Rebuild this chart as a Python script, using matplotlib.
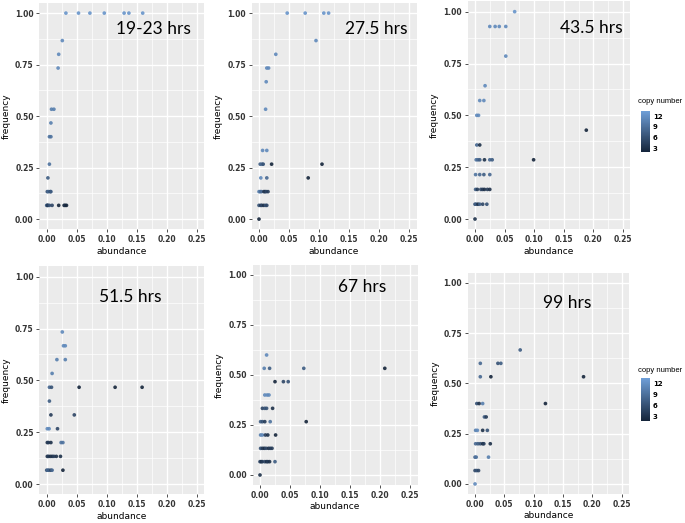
import matplotlib.pyplot as plt
import matplotlib as mpl
from matplotlib.colors import LinearSegmentedColormap, Normalize

labels = ["19-23 hrs", "27.5 hrs", "43.5 hrs", "51.5 hrs", "67 hrs", "99 hrs"]

# panel 1: 19-23 hrs
ab1 = [0.032, 0.053, 0.072, 0.096, 0.129, 0.137, 0.160, 0.026, 0.020, 0.019,
       0.008, 0.012, 0.007, 0.0045, 0.007, 0.0045, 0.002,
       0.001, 0.003, 0.006, 0.007,
       0.0, 0.001, 0.002, 0.0045, 0.009, 0.020, 0.029, 0.031, 0.033]
fr1 = [1, 1, 1, 1, 1, 1, 1, 13/15, 12/15, 11/15,
       8/15, 8/15, 7/15, 6/15, 6/15, 4/15, 3/15,
       2/15, 2/15, 2/15, 2/15,
       1/15, 1/15, 1/15, 1/15, 1/15, 1/15, 1/15, 1/15, 1/15]
cn1 = [12, 12, 12, 12, 12, 12, 12, 11, 11, 11,
       10, 10, 10, 9, 9, 9, 7,
       6, 8, 5, 7,
       8, 5, 4, 6, 5, 2, 2, 3, 2]

# panel 2: 27.5 hrs
ab2 = [0.047, 0.077, 0.108, 0.116, 0.095, 0.028, 0.013, 0.016, 0.012, 0.011,
       0.006, 0.013, 0.002, 0.005, 0.007, 0.021, 0.105,
       0.003, 0.013, 0.082,
       0.0, 0.002, 0.004, 0.008, 0.010, 0.012, 0.015,
       0.0, 0.003, 0.005, 0.008, 0.011, 0.013, 0.0]
fr2 = [1, 1, 1, 1, 13/15, 12/15, 11/15, 11/15, 10/15, 8/15,
       5/15, 5/15, 4/15, 4/15, 4/15, 4/15, 4/15,
       3/15, 3/15, 3/15,
       2/15, 2/15, 2/15, 2/15, 2/15, 2/15, 2/15,
       1/15, 1/15, 1/15, 1/15, 1/15, 1/15, 0]
cn2 = [12, 12, 12, 12, 11, 11, 11, 11, 11, 11,
       11, 11, 7, 8, 6, 2, 2,
       11, 8, 2,
       10, 9, 8, 4, 3, 5, 4,
       6, 4, 5, 3, 6, 5, 2]

# panel 3: 43.5 hrs
ab3 = [0.067, 0.025, 0.034, 0.041, 0.052, 0.052, 0.017, 0.008, 0.015, 0.003, 0.006,
       0.188, 0.003, 0.008,
       0.002, 0.005, 0.008, 0.016, 0.025, 0.029, 0.099,
       0.001, 0.008, 0.015, 0.025,
       0.001, 0.004, 0.010, 0.013, 0.016, 0.021, 0.025,
       0.0, 0.002, 0.005, 0.008, 0.013, 0.020, 0.0]
fr3 = [1, 13/14, 13/14, 13/14, 13/14, 11/14, 9/14, 8/14, 8/14, 7/14, 7/14,
       6/14, 5/14, 5/14,
       4/14, 4/14, 4/14, 4/14, 4/14, 4/14, 4/14,
       3/14, 3/14, 3/14, 3/14,
       2/14, 2/14, 2/14, 2/14, 2/14, 2/14, 2/14,
       1/14, 1/14, 1/14, 1/14, 1/14, 1/14, 0]
cn3 = [12, 11, 11, 11, 11, 11, 11, 11, 11, 11, 11,
       2, 8, 3,
       9, 8, 7, 3, 8, 7, 2,
       9, 8, 7, 8,
       7, 4, 5, 4, 3, 4, 3,
       6, 7, 3, 7, 5, 6, 3]

# panel 4: 51.5 hrs
ab4 = [0.026, 0.028, 0.031, 0.017, 0.031, 0.009,
       0.0045, 0.008, 0.054, 0.114, 0.159, 0.0045, 0.007, 0.046,
       0.001, 0.004, 0.018,
       0.001, 0.003, 0.007, 0.024, 0.027,
       0.001, 0.003, 0.006, 0.009, 0.012, 0.016, 0.023,
       0.0, 0.002, 0.004, 0.007, 0.009, 0.027]
fr4 = [11/15, 10/15, 10/15, 9/15, 9/15, 8/15,
       7/15, 7/15, 7/15, 7/15, 7/15, 6/15, 5/15, 5/15,
       4/15, 4/15, 4/15,
       3/15, 3/15, 3/15, 3/15, 3/15,
       2/15, 2/15, 2/15, 2/15, 2/15, 2/15, 2/15,
       1/15, 1/15, 1/15, 1/15, 1/15, 1/15]
cn4 = [11, 11, 11, 10, 10, 10,
       8, 6, 2, 2, 2, 7, 4, 5,
       11, 11, 5,
       3, 4, 3, 9, 9,
       3, 4, 3, 3, 4, 3, 3,
       6, 8, 7, 5, 8, 2]

# panel 5: 67 hrs
ab5 = [0.011, 0.007, 0.016, 0.073, 0.208,
       0.025, 0.039, 0.047,
       0.008, 0.012, 0.015,
       0.004, 0.008, 0.011, 0.021,
       0.001, 0.004, 0.008, 0.017, 0.077,
       0.001, 0.004, 0.009, 0.013, 0.026,
       0.001, 0.004, 0.007, 0.010, 0.014, 0.017, 0.020,
       0.0, 0.002, 0.004, 0.008, 0.011, 0.013, 0.016, 0.025, 0.0]
fr5 = [9/15, 8/15, 8/15, 8/15, 8/15,
       7/15, 7/15, 7/15,
       6/15, 6/15, 6/15,
       5/15, 5/15, 5/15, 5/15,
       4/15, 4/15, 4/15, 4/15, 4/15,
       3/15, 3/15, 3/15, 3/15, 3/15,
       2/15, 2/15, 2/15, 2/15, 2/15, 2/15, 2/15,
       1/15, 1/15, 1/15, 1/15, 1/15, 1/15, 1/15, 1/15, 0]
cn5 = [11, 10, 7, 7, 2,
       2, 5, 6,
       11, 11, 11,
       5, 6, 6, 3,
       7, 6, 4, 9, 2,
       10, 11, 4, 3, 2,
       6, 4, 3, 5, 3, 4, 4,
       5, 3, 4, 5, 3, 4, 3, 7, 3]

# panel 6: 99 hrs
ab6 = [0.077, 0.009, 0.039, 0.044, 0.009, 0.027, 0.185,
       0.003, 0.007, 0.013, 0.120,
       0.016, 0.019,
       0.001, 0.004, 0.013, 0.021,
       0.001, 0.005, 0.009, 0.013, 0.015, 0.026,
       0.0, 0.002, 0.023,
       0.0, 0.003, 0.006, 0.0]
fr6 = [10/15, 9/15, 9/15, 9/15, 8/15, 8/15, 8/15,
       6/15, 6/15, 6/15, 6/15,
       5/15, 5/15,
       4/15, 4/15, 4/15, 4/15,
       3/15, 3/15, 3/15, 3/15, 3/15, 3/15,
       2/15, 2/15, 2/15,
       1/15, 1/15, 1/15, 0]
cn6 = [7, 8, 6, 7, 8, 2, 2,
       6, 3, 10, 2,
       7, 4,
       10, 11, 3, 6,
       8, 7, 6, 3, 4, 3,
       8, 9, 10,
       5, 6, 5, 11]

abund = [ab1, ab2, ab3, ab4, ab5, ab6]
freq = [fr1, fr2, fr3, fr4, fr5, fr6]
copies = [cn1, cn2, cn3, cn4, cn5, cn6]

# panel rectangles in pixels: left, right, top, bottom
W, H = 685, 523
rects = [(39.2, 204.2, 2.8, 229.4), (251.5, 416.5, 2.8, 229.4), (467.6, 630.4, 1.3, 229.4),
         (39.2, 204.2, 266.3, 494.4), (252.5, 417.5, 265.0, 485.0), (467.7, 629.0, 272.9, 494.0)]
label_pos = [(0.24, 0.925), (0.248, 0.925), (0.25, 0.92), (0.192, 0.90), (0.21, 0.94), (0.199, 0.90)]

cmap = LinearSegmentedColormap.from_list("cn", ["#14243a", "#6f9fd8"])
norm = Normalize(vmin=2, vmax=13)

fig = plt.figure(figsize=(W / 100, H / 100), dpi=100)

tick_font = dict(fontsize=5.5, fontweight="bold", color="#333333")

for i in range(6):
    l, r, t, b = rects[i]
    ax = fig.add_axes([l / W, 1 - b / H, (r - l) / W, (b - t) / H])
    ax.set_facecolor("#EBEBEB")
    ax.scatter(abund[i], freq[i], c=copies[i], cmap=cmap, norm=norm, s=7,
               linewidths=0, alpha=0.9, zorder=3)
    ax.set_xlim(-0.0125, 0.2625)
    ax.set_ylim(-0.05, 1.05)
    ax.set_xticks([0, 0.05, 0.10, 0.15, 0.20, 0.25])
    ax.set_xticklabels(["0.00", "0.05", "0.10", "0.15", "0.20", "0.25"], **tick_font)
    ax.set_yticks([0, 0.25, 0.5, 0.75, 1.0])
    ax.set_yticklabels(["0.00", "0.25", "0.50", "0.75", "1.00"], **tick_font)
    ax.set_xticks([0.025, 0.075, 0.125, 0.175, 0.225], minor=True)
    ax.set_yticks([0.125, 0.375, 0.625, 0.875], minor=True)
    ax.grid(True, which="major", color="white", linewidth=1.0)
    ax.grid(True, which="minor", color="white", linewidth=0.5)
    ax.tick_params(which="major", length=2, width=0.6, color="#333333", pad=2)
    ax.tick_params(which="minor", length=0)
    for s in ax.spines.values():
        s.set_visible(False)
    ax.set_axisbelow(True)
    ax.set_xlabel("abundance", fontsize=6.5, labelpad=2)
    ax.set_ylabel("frequency", fontsize=6.5, labelpad=3)
    x, y = label_pos[i]
    ax.text(x, y, labels[i], fontsize=12.5, ha="right", va="center", family="Lato")

# colour bar legends beside panel 3 and 6
for top, bar_top, bar_bot in [(101, 111, 152), (370, 378, 421)]:
    cax = fig.add_axes([641 / W, 1 - bar_bot / H, 9 / W, (bar_bot - bar_top) / H])
    cb = mpl.colorbar.ColorbarBase(cax, cmap=cmap, norm=Normalize(vmin=1.9, vmax=13.5))
    cb.set_ticks([3, 6, 9, 12])
    cb.ax.tick_params(length=0, labelsize=5, pad=2)
    for lab in cb.ax.get_yticklabels():
        lab.set_fontweight("bold")
    cb.outline.set_visible(False)
    fig.text(638 / W, 1 - top / H, "copy number", fontsize=5.5, va="center", ha="left",
             family="Liberation Sans")

fig.savefig("out.png", dpi=100)
